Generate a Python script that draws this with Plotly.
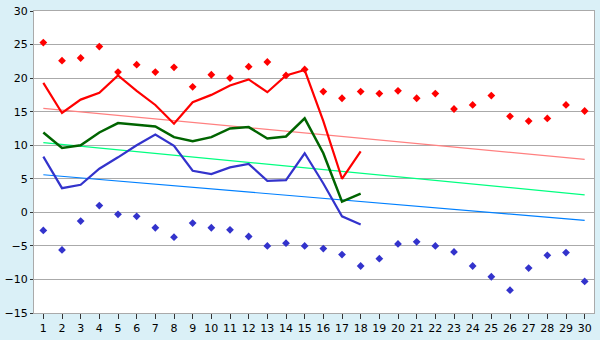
import plotly.graph_objects as go

days = list(range(1, 31))
days_line = list(range(1, 19))

tmax = [19.3, 14.8, 16.8, 17.8, 20.4, 18.1, 16.0, 13.2, 16.4, 17.5, 18.9, 19.8, 17.9, 20.4, 21.2, 13.6, 5.0, 9.1]
tmean = [11.9, 9.6, 10.0, 11.9, 13.3, 13.1, 12.8, 11.2, 10.6, 11.2, 12.5, 12.7, 11.0, 11.3, 14.0, 8.8, 1.6, 2.8]
tmin = [8.3, 3.6, 4.1, 6.5, 8.2, 10.0, 11.6, 9.9, 6.2, 5.7, 6.7, 7.2, 4.7, 4.8, 8.8, 4.3, -0.6, -1.8]

rec_max = [25.3, 22.6, 23.0, 24.7, 20.9, 22.0, 20.9, 21.6, 18.7, 20.5, 20.0, 21.7, 22.4, 20.4, 21.3,
           18.0, 17.0, 18.0, 17.7, 18.1, 17.0, 17.7, 15.4, 16.0, 17.4, 14.3, 13.6, 14.0, 16.0, 15.1]
rec_min = [-2.7, -5.6, -1.3, 1.0, -0.3, -0.6, -2.3, -3.7, -1.6, -2.3, -2.6, -3.6, -5.0, -4.6, -5.0,
           -5.4, -6.3, -8.0, -6.9, -4.7, -4.4, -5.0, -5.9, -8.0, -9.6, -11.6, -8.3, -6.4, -6.0, -10.3]

trend_days = [1, 30]
trend_max = [15.5, 7.9]
trend_mean = [10.4, 2.6]
trend_min = [5.6, -1.2]

fig = go.Figure()
fig.add_trace(go.Scatter(x=trend_days, y=trend_max, mode="lines", line=dict(color="#FF8080", width=1.2)))
fig.add_trace(go.Scatter(x=trend_days, y=trend_mean, mode="lines", line=dict(color="#00FF80", width=1.2)))
fig.add_trace(go.Scatter(x=trend_days, y=trend_min, mode="lines", line=dict(color="#0080FF", width=1.2)))
fig.add_trace(go.Scatter(x=days, y=rec_max, mode="markers",
                         marker=dict(symbol="diamond", size=6, color="#FF0000")))
fig.add_trace(go.Scatter(x=days, y=rec_min, mode="markers",
                         marker=dict(symbol="diamond", size=6, color="#3333CC")))
fig.add_trace(go.Scatter(x=days_line, y=tmax, mode="lines", line=dict(color="#FF0000", width=2.2)))
fig.add_trace(go.Scatter(x=days_line, y=tmean, mode="lines", line=dict(color="#006400", width=2.5)))
fig.add_trace(go.Scatter(x=days_line, y=tmin, mode="lines", line=dict(color="#3333CC", width=2.2)))

fig.update_layout(
    width=600, height=340,
    margin=dict(l=26, r=5, t=5, b=20),
    paper_bgcolor="#DAF0F7",
    plot_bgcolor="#FFFFFF",
    showlegend=False,
    font=dict(family="DejaVu Sans", size=11, color="#000000"),
)
fig.update_xaxes(
    range=[0.5, 30.5], tickmode="array", tickvals=days, ticktext=[str(d) for d in days],
    showgrid=False, zeroline=False, showline=True, linecolor="#AAAAAA", linewidth=1, mirror=True,
    ticks="outside", ticklen=5, tickcolor="#333333", tickfont=dict(size=11),
)
fig.update_yaxes(
    range=[-15, 30], dtick=5, tick0=-15,
    showgrid=True, gridcolor="#AAAAAA", gridwidth=1, zeroline=False,
    showline=True, linecolor="#AAAAAA", linewidth=1, mirror=True,
    ticks="outside", ticklen=3, tickcolor="#333333", tickfont=dict(size=11),
    ticklabeloverflow="allow",
)

fig.write_html("out.html")
